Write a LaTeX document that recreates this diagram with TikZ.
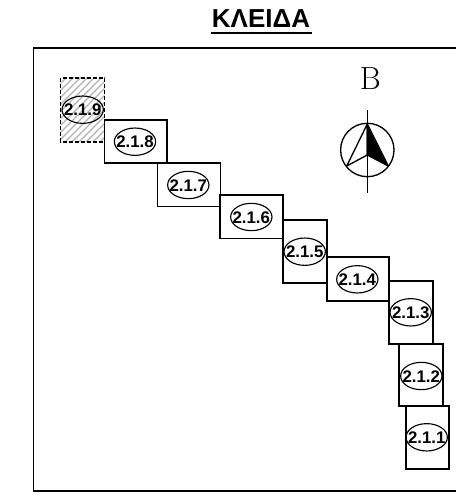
\documentclass[tikz,border=0pt]{standalone}
\usepackage{fontspec}
\setmainfont{Liberation Sans}
\newfontfamily\serifB{Latin Modern Roman}
\usetikzlibrary{shapes.geometric}
\newcommand\tagtext[1]{\makebox[0pt]{\smash{\raisebox{-0.36em}{#1}}}}
\tikzset{
  x=0.75pt,y=-0.75pt,
  area/.style={draw=black,line width=1.35pt,fill=none},
  tag/.style={draw=black,ellipse,line width=0.85pt,minimum width=31pt,minimum height=20.5pt,inner sep=0pt,font=\bfseries\fontsize{12.6}{14}\selectfont},
  frame/.style={draw=black,line width=1.2pt},
  hatch/.style={black!30,line width=0.85pt}
}
\begin{document}
\begin{tikzpicture}
\useasboundingbox (0,0) rectangle (455,499);
\node[font=\bfseries\fontsize{19.5}{22}\selectfont] (title) at (261,18.5) {ΚΛΕΙΔΑ};
\draw[line width=1.3pt] (211,33) -- (311.5,33);
\draw[frame] (456,48) -- (33.5,48) -- (33.5,491) -- (456,491);
% hatched box
\begin{scope}
\clip (60.5,78) rectangle (104.5,142);
\foreach \k in {-12,-11,...,22} {\draw[hatch] (50+\k*7,150) -- (50+\k*7+90,60);}
\end{scope}
\draw[dash pattern=on 3pt off 1.5pt,line width=1pt] (60.5,78) rectangle (104.5,142);
\draw[area] (104.5,120) rectangle (167,163);
\draw[area] (157.5,163) rectangle (220.5,206.5);
\draw[area] (220,195) rectangle (283,238.5);
\draw[area] (283,220) rectangle (326.7,282.7);
\draw[area] (326.7,257.3) rectangle (389.3,300.7);
\draw[area] (389.3,280.7) rectangle (432.7,343.7);
\draw[area] (399.3,344) rectangle (442.7,406.3);
\draw[area] (405.7,406.3) rectangle (449,468.7);
\node[tag] (t9) at (82.7,109.7) {\tagtext{2.1.9}};
\node[tag] (t8) at (135,141.7) {\tagtext{2.1.8}};
\node[tag] (t7) at (188.3,185) {\tagtext{2.1.7}};
\node[tag] (t6) at (251.3,217) {\tagtext{2.1.6}};
\node[tag] (t5) at (304.7,251.7) {\tagtext{2.1.5}};
\node[tag] (t4) at (357.3,279.3) {\tagtext{2.1.4}};
\node[tag] (t3) at (410.7,312.3) {\tagtext{2.1.3}};
\node[tag] (t2) at (421.3,376) {\tagtext{2.1.2}};
\node[tag] (t1) at (426.7,437.3) {\tagtext{2.1.1}};
\node[font=\serifB\fontsize{24}{26}\selectfont] (north) at (370.3,79) {B};
\draw[line width=1pt] (367.3,150) circle (26.7*0.75pt);
\draw[line width=1pt] (367.3,110) -- (367.3,192.7);
\draw[line width=1pt,line join=round] (346.7,166) -- (367.3,124) -- (367.3,155) -- cycle;
\fill[draw=black,line width=1pt,line join=round] (367.3,124) -- (388.3,166) -- (367.3,155) -- cycle;
\end{tikzpicture}
\end{document}
